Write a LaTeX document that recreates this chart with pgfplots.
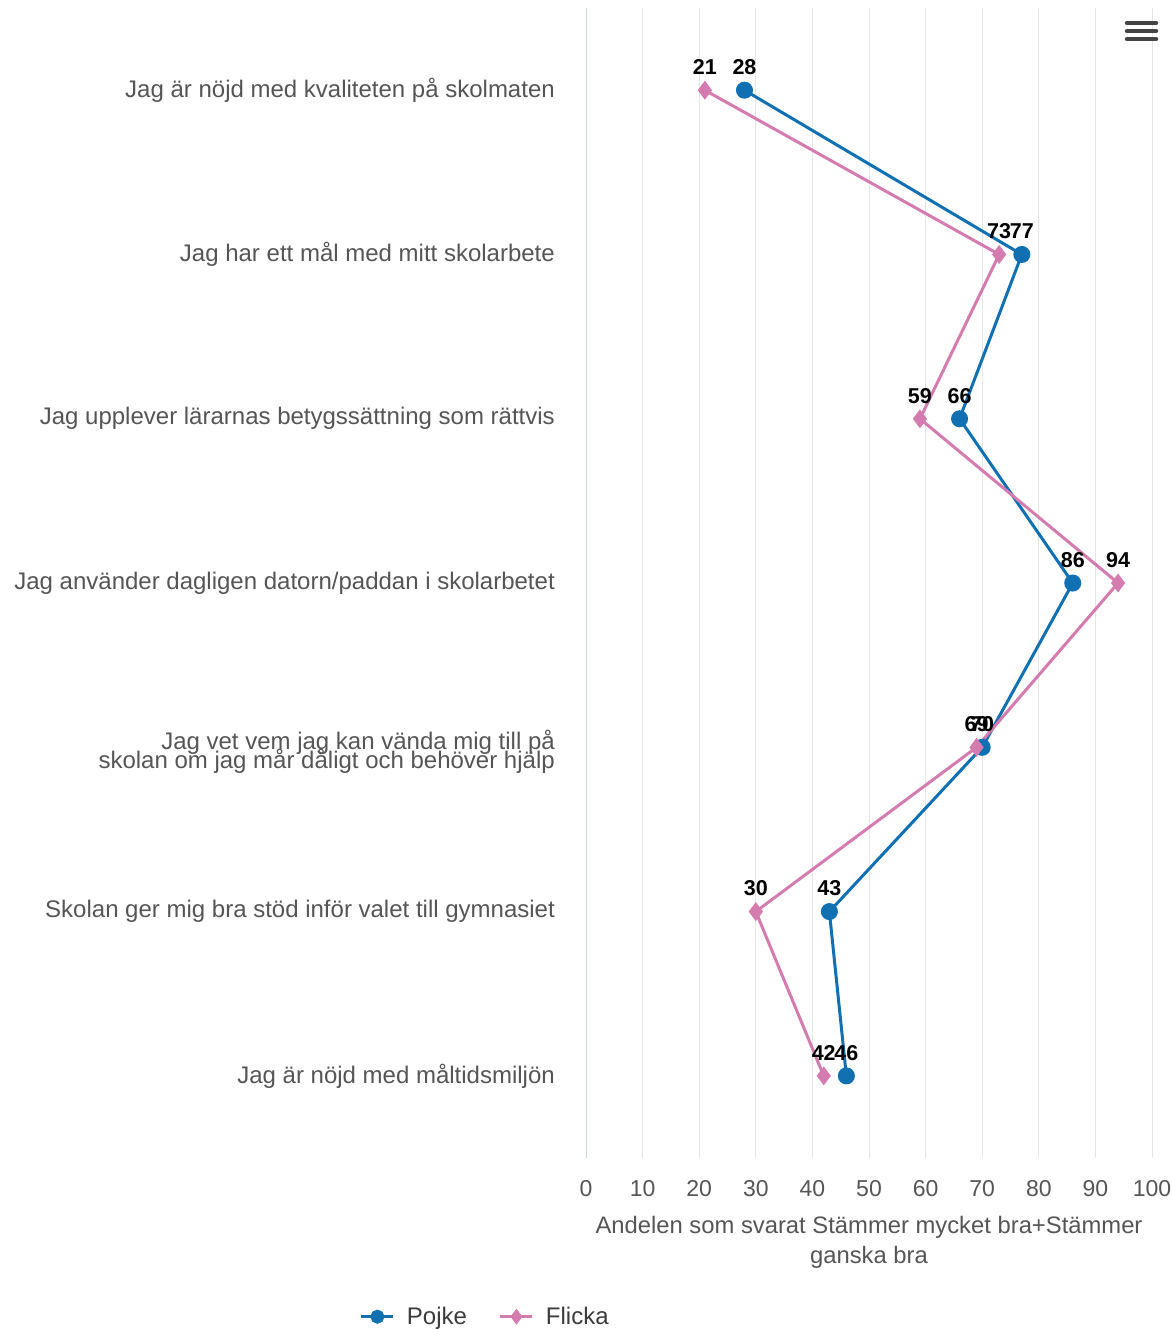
\documentclass[border=0pt]{standalone}
\usepackage{fontspec}
\setmainfont{Liberation Sans}
\usepackage{pgfplots}
\pgfplotsset{compat=1.18}
\definecolor{pojke}{RGB}{16,112,178}
\definecolor{flicka}{RGB}{212,124,176}
\definecolor{gridc}{RGB}{230,230,230}
\definecolor{axc}{RGB}{204,214,235}
\definecolor{lab}{RGB}{85,85,85}
\newcommand\tightlines{\lineskiplimit=-100pt\relax\lineskip=0pt\relax}
\begin{document}
\begin{tikzpicture}[x=1pt,y=1pt]
\useasboundingbox (0,0) rectangle (1171,1330);
\begin{axis}[
  at={(586pt,172pt)}, anchor=south west,
  scale only axis, width=566pt, height=1150pt,
  xmin=0, xmax=100, ymin=-0.5, ymax=6.5, y dir=reverse,
  xtick={0,10,...,100}, ytick={0,1,2,3,4.025,5,6},
  yticklabels={
    Jag är nöjd med kvaliteten på skolmaten,
    Jag har ett mål med mitt skolarbete,
    Jag upplever lärarnas betygssättning som rättvis,
    Jag använder dagligen datorn/paddan i skolarbetet,
    {Jag vet vem jag kan vända mig till på\\skolan om jag mår dåligt och behöver hjälp},
    Skolan ger mig bra stöd inför valet till gymnasiet,
    Jag är nöjd med måltidsmiljön},
  axis line style={draw=none},
  tick style={draw=none},
  xmajorgrids, grid style={gridc, line width=1pt},
  /pgf/number format/assume math mode=true,
  xticklabel style={font=\fontsize{23}{26}\selectfont, text=lab, inner sep=0pt, yshift=-22pt},
  yticklabel style={font=\fontsize{24}{19}\selectfont\tightlines, text=lab, align=right, anchor=east, inner sep=0pt, xshift=-31pt},
  xlabel={Andelen som svarat Stämmer mycket bra+Stämmer\\ganska bra},
  xlabel style={font=\fontsize{23.8}{30}\selectfont, text=lab, align=center, inner sep=0pt, yshift=-20pt},
  clip=false,
  nodes near coords,
  point meta=x,
  nodes near coords style={font=\bfseries\fontsize{21.5}{22}\selectfont, text=black, anchor=south, inner sep=0pt, yshift=14pt,
    /pgf/number format/assume math mode=true},
  legend columns=2,
  legend style={at={(-0.178,-0.138)}, anchor=center, draw=none, fill=none,
    font=\fontsize{24}{26}\selectfont, text=lab!70!black,
    /tikz/every odd column/.append style={column sep=10pt},
    /tikz/every even column/.append style={column sep=30pt}},
  legend image code/.code={\draw[mark repeat=2,mark phase=2, mark size=5.5pt] plot coordinates {(0pt,0pt)(16pt,0pt)(32pt,0pt)};},
]
\draw[axc, line width=1pt] (axis cs:0,-0.5) -- (axis cs:0,6.5);
\addplot[pojke, line width=3pt, mark=*, mark size=7pt, mark options={solid}] coordinates {
  (28,0) (77,1) (66,2) (86,3) (70,4) (43,5) (46,6)};
\addlegendentry{Pojke}
\addplot[flicka, line width=3pt, mark=diamond*, mark size=7pt, mark options={solid}] coordinates {
  (21,0) (73,1) (59,2) (94,3) (69,4) (30,5) (42,6)};
\addlegendentry{Flicka}
\end{axis}
\foreach \yy in {1307,1299,1291} \draw[lab!80!black, line width=4.5pt, line cap=round] (1127,\yy) -- (1156,\yy);
\end{tikzpicture}
\end{document}
